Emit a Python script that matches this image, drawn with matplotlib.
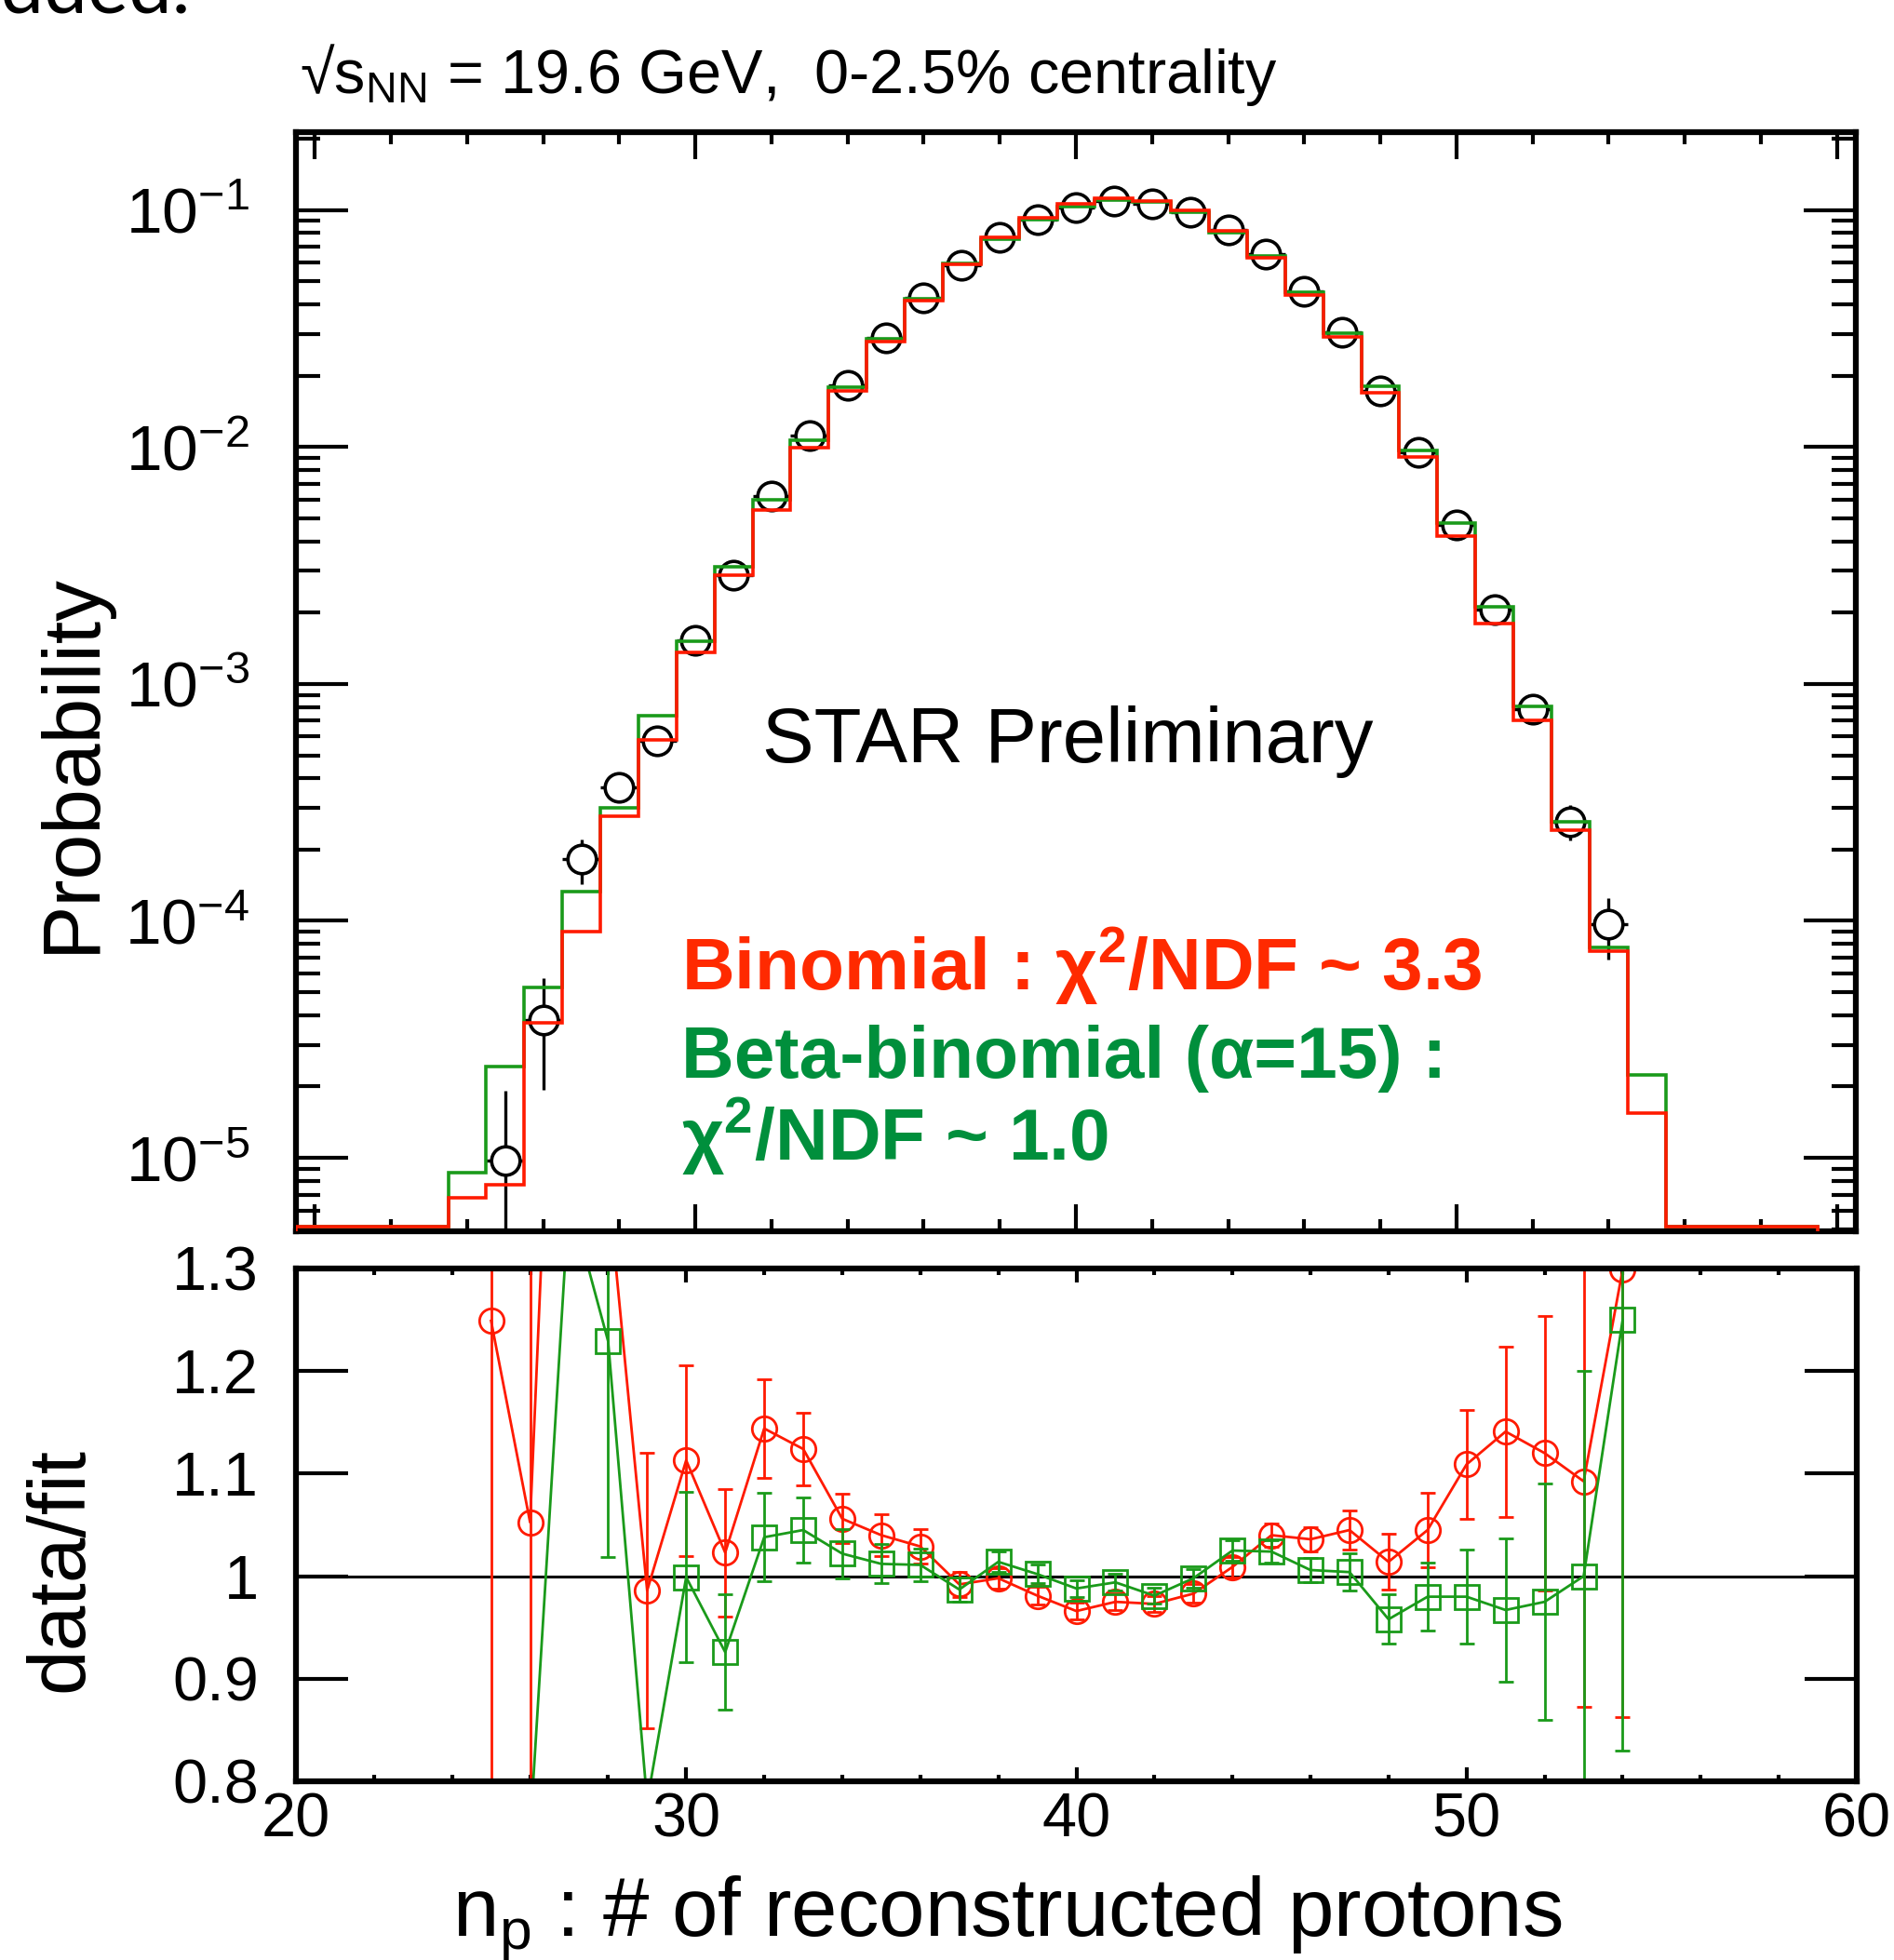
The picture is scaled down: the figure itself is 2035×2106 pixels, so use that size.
import numpy as np
import matplotlib.pyplot as plt
from matplotlib.ticker import MultipleLocator, LogLocator, NullFormatter, FixedLocator, FixedFormatter

plt.rcParams['font.family'] = ['Liberation Sans', 'DejaVu Sans']
plt.rcParams['mathtext.fontset'] = 'custom'
plt.rcParams['mathtext.rm'] = 'Liberation Sans'
plt.rcParams['mathtext.it'] = 'Liberation Sans:italic'
plt.rcParams['mathtext.bf'] = 'Liberation Sans:bold'

# ---- data ----
# measured probability (black circles), n_p = 25..54
n_data = np.arange(25, 55)
prob = [9.7e-6, 3.83e-5, 1.82e-4, 3.67e-4, 5.74e-4, 1.53e-3, 2.88e-3, 6.19e-3,
        1.12e-2, 1.82e-2, 2.90e-2, 4.27e-2, 5.86e-2, 7.66e-2, 9.08e-2, 0.1025,
        0.109, 0.106, 0.0976, 0.0823, 0.0653, 0.0454, 0.0304, 0.0172, 9.46e-3,
        4.68e-3, 2.05e-3, 7.83e-4, 2.63e-4, 9.7e-5]
prob_err = [9.5e-6, 1.9e-5, 3.9e-5, 5.0e-5, 7.8e-5, 1.28e-4, 1.75e-4, 2.6e-4,
            3.5e-4, 4.2e-4, 5.5e-4, 6.8e-4, 6.5e-4, 7.5e-4, 8.5e-4, 9.0e-4,
            9.0e-4, 9.0e-4, 9.0e-4, 8.5e-4, 6.5e-4, 5.4e-4, 5.2e-4, 4.6e-4,
            3.4e-4, 2.2e-4, 1.5e-4, 6.0e-5, 4.5e-5, 2.8e-5]

# fit histograms, bins n = 20..59
bin_edges = np.arange(19.5, 60.5, 1.0)
binomial = [0, 0, 0, 0, 6.8e-6, 7.7e-6, 3.7e-5, 9.0e-5, 2.77e-4, 5.78e-4,
            1.36e-3, 2.87e-3, 5.41e-3, 9.96e-3, 1.72e-2, 2.79e-2, 4.15e-2,
            5.91e-2, 7.68e-2, 9.26e-2, 0.1061, 0.1118, 0.1088, 0.0993, 0.0816,
            0.0628, 0.0438, 0.0291, 0.0170, 9.05e-3, 4.22e-3, 1.80e-3, 6.99e-4,
            2.41e-4, 7.46e-5, 1.55e-5, 0, 0, 0, 0]
betabinomial = [0, 0, 0, 0, 8.7e-6, 2.43e-5, 5.24e-5, 1.33e-4, 2.99e-4, 7.37e-4,
                1.52e-3, 3.13e-3, 5.96e-3, 1.07e-2, 1.78e-2, 2.87e-2, 4.22e-2,
                5.94e-2, 7.55e-2, 9.08e-2, 0.1037, 0.1097, 0.1081, 0.0978, 0.0803,
                0.0638, 0.0451, 0.0303, 0.0180, 9.65e-3, 4.78e-3, 2.12e-3, 8.03e-4,
                2.63e-4, 7.76e-5, 2.23e-5, 0, 0, 0, 0]

# data/fit ratios, n_p = 25..54
ratio_binom = [1.249, 1.0525, 1.94, 1.38, 0.986, 1.113, 1.023, 1.144, 1.124, 1.056,
               1.040, 1.029, 0.992, 0.998, 0.981, 0.966, 0.975, 0.973, 0.983, 1.009,
               1.040, 1.036, 1.045, 1.014, 1.045, 1.109, 1.141, 1.120, 1.0925, 1.299]
err_binom = [0.6, 0.6, 0.2, 0.06, 0.134, 0.093, 0.062, 0.048, 0.035, 0.024,
             0.020, 0.017, 0.012, 0.010, 0.009, 0.008, 0.008, 0.008, 0.009, 0.010,
             0.011, 0.012, 0.019, 0.027, 0.036, 0.053, 0.083, 0.134, 0.22, 0.436]
ratio_beta = [0.40, 0.75, 1.37, 1.229, 0.78, 0.999, 0.926, 1.038, 1.045, 1.022,
              1.012, 1.011, 0.987, 1.014, 1.002, 0.988, 0.994, 0.981, 0.998, 1.025,
              1.024, 1.006, 1.004, 0.958, 0.980, 0.980, 0.967, 0.975, 1.000, 1.250]
err_beta = [0.1, 0.05, 0.05, 0.21, 0.015, 0.083, 0.056, 0.043, 0.032, 0.024,
            0.019, 0.016, 0.012, 0.010, 0.009, 0.008, 0.008, 0.008, 0.009, 0.010,
            0.011, 0.012, 0.018, 0.024, 0.033, 0.046, 0.070, 0.115, 0.20, 0.42]

ratio_ticks = [0.8, 0.9, 1.0, 1.1, 1.2, 1.3]
ratio_labels = ['0.8', '0.9', '1', '1.1', '1.2', '1.3']

RED = '#ff1a00'
GREEN = '#1a9a1a'
RED_TXT = '#ff2a00'
GREEN_TXT = '#008f3c'

W, H = 2035, 2106
fig = plt.figure(figsize=(W / 100, H / 100), dpi=100)


def px_axes(l, t, r, b):
    return fig.add_axes([l / W, 1 - b / H, (r - l) / W, (b - t) / H])


def ftxt(x, y, s, **kw):
    return fig.text(x / W, 1 - y / H, s, **kw)


ax1 = px_axes(318, 142, 1994, 1323)
ax2 = px_axes(318, 1363, 1995, 1914)

# ---- top panel ----
ymin, ymax = 4.9e-6, 0.213
floor = ymin * 1.045  # empty bins are drawn just above the frame, like ROOT does
ax1.set_yscale('log')
ax1.set_xlim(19.5, 60.5)
ax1.set_ylim(ymin, ymax)

ax1.errorbar(n_data, prob, yerr=prob_err, xerr=0.5, fmt='none', ecolor='k',
             elinewidth=2.4, capsize=0, zorder=2)
ax1.plot(n_data, prob, 'o', ms=22, mfc='white', mec='k', mew=2.6, zorder=3)
ax1.stairs(np.clip(betabinomial, floor, None), bin_edges, color=GREEN, lw=2.6, zorder=4)
ax1.stairs(np.clip(binomial, floor, None), bin_edges, color=RED, lw=2.6, zorder=11)

ax1.xaxis.set_major_locator(MultipleLocator(10))
ax1.xaxis.set_minor_locator(MultipleLocator(2))
ax1.tick_params(axis='x', which='both', direction='in', top=True, bottom=True,
                labelbottom=False)
ax1.tick_params(axis='x', which='major', length=21, width=3)
ax1.tick_params(axis='x', which='minor', length=9.5, width=3)
ax1.yaxis.set_major_locator(LogLocator(base=10, numticks=20))
ax1.yaxis.set_minor_locator(LogLocator(base=10, subs=np.arange(2, 10), numticks=20))
ax1.yaxis.set_minor_formatter(NullFormatter())
ax1.tick_params(axis='y', which='both', direction='in', left=True, right=True,
                labelsize=50, pad=36)
ax1.tick_params(axis='y', which='major', length=40, width=3)
ax1.tick_params(axis='y', which='minor', length=19, width=3)

# ---- bottom panel ----
ax2.set_xlim(20, 60)
ax2.set_ylim(0.8, 1.3)
ax2.axhline(1.0, color='k', lw=2.2, zorder=1)
ax2.errorbar(n_data, ratio_binom, yerr=err_binom, fmt='-o', color=RED, ms=19,
             mfc='none', mec=RED, mew=2.0, lw=2.0, elinewidth=2.0, capsize=5.5,
             capthick=2.0, zorder=3)
ax2.errorbar(n_data, ratio_beta, yerr=err_beta, fmt='-s', color=GREEN, ms=19,
             mfc='none', mec=GREEN, mew=2.0, lw=2.0, elinewidth=2.0, capsize=5.5,
             capthick=2.0, zorder=4)

ax2.xaxis.set_major_locator(MultipleLocator(10))
ax2.xaxis.set_minor_locator(MultipleLocator(2))
ax2.tick_params(axis='x', which='both', direction='in', top=True, bottom=True,
                labelsize=48, pad=8)
ax2.tick_params(axis='x', which='major', length=11, width=3)
ax2.tick_params(axis='x', which='minor', length=5, width=3)
ax2.yaxis.set_major_locator(FixedLocator(ratio_ticks))
ax2.yaxis.set_major_formatter(FixedFormatter(ratio_labels))
ax2.tick_params(axis='y', which='major', direction='in', left=True, right=True,
                length=40, width=3, labelsize=48, pad=29)

for ax in (ax1, ax2):
    for sp in ax.spines.values():
        sp.set_linewidth(4.5)
        sp.set_zorder(10)

# ---- texts ----
ftxt(205, 13, 'added.', family='Lato', fontsize=60, ha='right', va='baseline')
ftxt(322, 100, r'√s$_{\mathregular{NN}}$ = 19.6 GeV,  0-2.5% centrality',
     fontsize=48, ha='left', va='baseline')
ftxt(78, 820, 'Probability', fontsize=63, rotation=90, ha='center', va='center')
ftxt(66, 1687, 'data/fit', fontsize=63, rotation=90, ha='center', va='center')
ftxt(1082, 2080, r'n$_{\mathregular{p}}$ : # of reconstructed protons', fontsize=64,
     ha='center', va='baseline')
ftxt(819, 819, 'STAR Preliminary', fontsize=60, ha='left', va='baseline')
ftxt(732, 1064, r'Binomial : χ$^{\mathbf{2}}$/NDF ~ 3.3', fontsize=56.5,
     fontweight='bold', color=RED_TXT, ha='left', va='baseline')
ftxt(732, 1158, 'Beta-binomial (α=15) :', fontsize=56.5, fontweight='bold',
     color=GREEN_TXT, ha='left', va='baseline')
ftxt(732, 1247, r'χ$^{\mathbf{2}}$/NDF ~ 1.0', fontsize=56.5, fontweight='bold',
     color=GREEN_TXT, ha='left', va='baseline')

fig.savefig('out.png', dpi=100)
